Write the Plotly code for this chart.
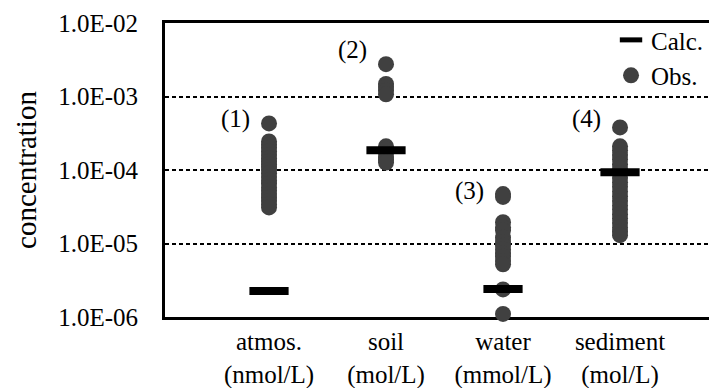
import plotly.graph_objects as go
import numpy as np

categories = ["atmos.", "soil", "water", "sediment"]
units = ["(nmol/L)", "(mol/L)", "(mmol/L)", "(mol/L)"]

obs_atmos = [4.3e-4, 2.45e-4, 2.2e-4, 2.0e-4, 1.8e-4, 1.6e-4, 1.45e-4, 1.3e-4, 1.2e-4,
             1.1e-4, 1.0e-4, 9.0e-5, 8.0e-5, 7.2e-5, 6.5e-5, 5.8e-5, 5.2e-5, 4.7e-5,
             4.2e-5, 3.8e-5, 3.4e-5, 3.1e-5]
obs_soil = [2.75e-3, 1.48e-3, 1.35e-3, 1.2e-3, 1.07e-3,
            2.1e-4, 1.9e-4, 1.7e-4, 1.5e-4, 1.38e-4, 1.26e-4]
obs_water = [4.7e-5, 4.3e-5, 1.95e-5, 1.66e-5, 1.5e-5, 1.2e-5, 1.05e-5, 9.3e-6,
             8.3e-6, 7.4e-6, 6.6e-6, 5.8e-6, 5.2e-6, 2.37e-6, 1.1e-6]
obs_sediment = [3.8e-4, 2.1e-4, 1.85e-4, 1.6e-4, 1.4e-4, 1.2e-4, 1.05e-4, 9.0e-5,
                7.8e-5, 6.8e-5, 5.9e-5, 5.1e-5, 4.4e-5, 3.8e-5, 3.3e-5, 2.9e-5,
                2.5e-5, 2.2e-5, 1.9e-5, 1.65e-5, 1.45e-5, 1.3e-5]
calc = [2.26e-6, 1.85e-4, 2.4e-6, 9.3e-5]

group_labels = ["(1)", "(2)", "(3)", "(4)"]
group_label_y = [3.8e-4 * 1.3, 2.75e-3 * 1.55, 4.7e-5 * 1.1, 3.8e-4 * 1.3]

ytick_vals = [1e-6, 1e-5, 1e-4, 1e-3, 1e-2]
ytick_text = ["1.0E-06", "1.0E-05", "1.0E-04", "1.0E-03", "1.0E-02"]

FONT = "Liberation Serif"
obs_all = [obs_atmos, obs_soil, obs_water, obs_sediment]

ox, oy = [], []
for i, vals in enumerate(obs_all):
    ox += [i] * len(vals)
    oy += vals

fig = go.Figure()
fig.add_trace(go.Scatter(
    x=ox, y=oy, mode="markers", name="Obs.",
    marker=dict(size=16, color="#404040", line=dict(width=0)),
    cliponaxis=False,
))
fig.add_trace(go.Scatter(
    x=list(range(len(categories))), y=calc, mode="markers", name="Calc.",
    marker=dict(symbol="line-ew", size=28, color="black",
                line=dict(width=8, color="black")),
    cliponaxis=False,
))

for i, (lab, ly) in enumerate(zip(group_labels, group_label_y)):
    fig.add_annotation(x=i - 0.29, y=np.log10(ly), text=lab, showarrow=False,
                       xref="x", yref="y", font=dict(family=FONT, size=25, color="black"))

fig.add_annotation(x=-0.252, y=0.5, xref="paper", yref="paper", text="concentration",
                   textangle=-90, showarrow=False, xanchor="center", yanchor="middle",
                   font=dict(family=FONT, size=29, color="black"))

# page body has an 8px margin, so the figure is 8px smaller than the window
fig.update_layout(
    width=709, height=380,
    margin=dict(l=157, r=0, t=15, b=71),
    paper_bgcolor="white", plot_bgcolor="white",
    font=dict(family=FONT, size=25, color="black"),
    showlegend=True,
    legend=dict(x=0.808, y=1.02, xanchor="left", yanchor="top",
                traceorder="reversed", bgcolor="rgba(0,0,0,0)",
                font=dict(family=FONT, size=25, color="black"),
                tracegroupgap=0, itemwidth=30),
    xaxis=dict(
        range=[-0.889, 3.829], tickvals=list(range(len(categories))),
        ticktext=[f"{c}<br>{u}" for c, u in zip(categories, units)],
        showgrid=False, zeroline=False, showline=True, linecolor="black",
        linewidth=3, mirror=True, ticks="", layer="below traces",
        tickfont=dict(family=FONT, size=25, color="black"),
    ),
    yaxis=dict(
        type="log", range=[-6, -2], tickvals=ytick_vals, ticktext=ytick_text,
        showgrid=True, gridcolor="black", gridwidth=1.5, griddash="4px,3px",
        zeroline=False, showline=True, linecolor="black", linewidth=3,
        ticks="", layer="below traces", ticklabelstandoff=19,
        tickfont=dict(family=FONT, size=25, color="black"),
    ),
)

fig.write_html("out.html")
